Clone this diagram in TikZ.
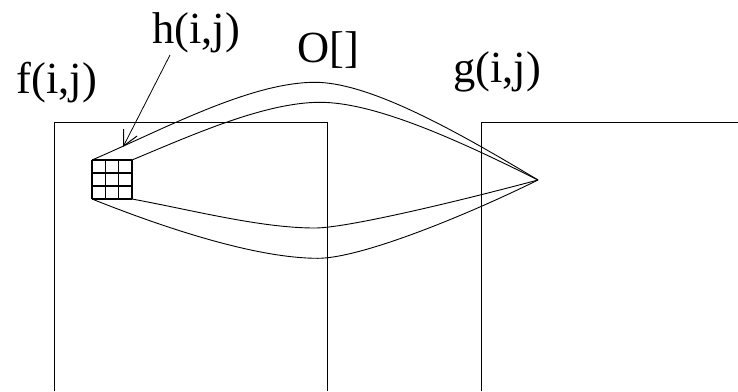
\documentclass[tikz,border=0pt]{standalone}
\usepackage{fontspec}
\setmainfont{Liberation Serif}
\usetikzlibrary{arrows.meta}
\begin{document}
\begin{tikzpicture}[x=1pt,y=-1pt,
  lbl/.style={anchor=base, inner sep=0pt, font=\fontsize{44.5}{50}\selectfont},
  frame/.style={draw=black, line width=1pt},
  beam/.style={draw=black, line width=0.9pt},
  cell/.style={draw=black, line width=1.2pt},
  pointer/.style={draw=black, line width=0.8pt, -{Straight Barb[length=15pt,width=15pt,line width=1pt]}}]
\useasboundingbox (0,0) rectangle (738,391);
% frames
\draw[frame] (54,391) -- (54,122) -- (327,122) -- (327,391);
\draw[frame] (481,391) -- (481,122) -- (738,122);
% labels
\node[lbl] (f) at (57,93) {f(i,j)};
\node[lbl] (h) at (196,43) {h(i,j)};
\node[lbl] (o) at (328,62) {O[]};
\node[lbl] (g) at (497,82) {g(i,j)};
% grid corners and apex
\coordinate (A) at (92,160);
\coordinate (B) at (132,160);
\coordinate (C) at (132,199);
\coordinate (D) at (92,199);
\coordinate (G) at (538,180);
% grid
\foreach \i in {0,1,2,3} {
  \draw[cell] (92+13.333*\i,160) -- (92+13.333*\i,199);
  \draw[cell] (92,160+13*\i) -- (132,160+13*\i);
}
% beams
\draw[beam] (A) .. controls (162,130) and (250,82.3) .. (315,82.3)
                .. controls (370,82.3) and (458,132) .. (G);
\draw[beam] (B) .. controls (192,135) and (265,102.3) .. (320,102.3)
                .. controls (375,102.3) and (458,140) .. (G);
\draw[beam] (C) .. controls (192,210) and (260,228) .. (315,228)
                .. controls (345,228) and (448,204) .. (G);
\draw[beam] (D) .. controls (162,227) and (255,258.3) .. (318,258.3)
                .. controls (360,258.3) and (463,217) .. (G);
% pointer
\coordinate (hs) at (170,55);
\coordinate (hp) at (123,147);
\draw[pointer] (hs) -- (hp);
\end{tikzpicture}
\end{document}
